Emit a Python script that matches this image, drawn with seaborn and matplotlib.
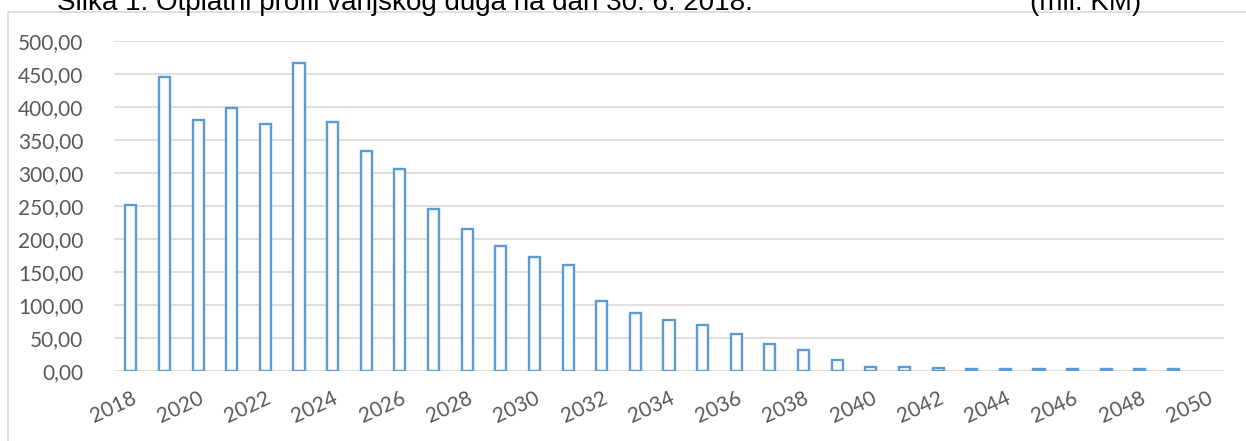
import matplotlib
matplotlib.use("Agg")
import matplotlib.pyplot as plt
import pandas as pd
import seaborn as sns
from matplotlib.patches import Rectangle
from matplotlib.ticker import FuncFormatter, MultipleLocator

# Repayment profile (mil. KM)
years = [str(y) for y in range(2018, 2051)]
paid_years = [str(y) for y in range(2018, 2050)]
amounts = [
    251, 446, 381, 399, 374, 467, 377, 333, 306, 245,
    215, 189, 172, 161, 106, 88, 78, 69, 56, 41,
    32, 16, 6, 5.5, 4.5, 3.5, 3.3, 3, 3, 3,
    3, 3,
]

title = "Slika 1: Otplatni profil vanjskog duga na dan 30. 6. 2018."
unit = "(mil. KM)"

BLUE = "#5B9BD5"
GREY_TEXT = "#595959"
GRID = "#D9D9D9"


def main():
    sns.set_style("white")
    plt.rcParams["font.family"] = ["Lato", "DejaVu Sans"]

    data = pd.DataFrame({"year": paid_years, "amount": amounts})

    fig = plt.figure(figsize=(12.46, 4.41), dpi=100)
    ax = fig.add_axes([114 / 1246, 70 / 441, 1110 / 1246, 330 / 441])

    sns.barplot(
        data=data, x="year", y="amount", order=years, ax=ax,
        color="white", edgecolor=BLUE, linewidth=1.7, width=0.33,
        errorbar=None,
    )

    ax.set_ylim(0, 500)
    ax.yaxis.set_major_locator(MultipleLocator(50))
    ax.yaxis.set_major_formatter(
        FuncFormatter(lambda v, _: f"{v:.2f}".replace(".", ","))
    )
    ax.grid(axis="y", color=GRID, linewidth=1.2)
    ax.set_axisbelow(True)
    sns.despine(ax=ax, left=True, bottom=True)

    ax.set_xlabel("")
    ax.set_ylabel("")
    ax.tick_params(axis="both", length=0, labelsize=15, labelcolor=GREY_TEXT)
    ax.tick_params(axis="y", pad=22)
    ax.tick_params(axis="x", pad=12)
    for i, lbl in enumerate(ax.get_xticklabels()):
        lbl.set_visible(i % 2 == 0)
        lbl.set_rotation(25)
        lbl.set_ha("right")
        lbl.set_rotation_mode("anchor")

    # outer chart frame
    fig.add_artist(Rectangle(
        (8 / 1246, -0.2), 1.2, 1.2 - 12 / 441, transform=fig.transFigure,
        fill=False, edgecolor="#D9D9D9", linewidth=1.2, clip_on=False,
    ))

    # caption (cut off at the top in the original)
    fig.text(57 / 1246, 1 - 10 / 441, title, family="Liberation Sans",
             fontsize=20, va="baseline", ha="left", color="black")
    fig.text(1030 / 1246, 1 - 10 / 441, unit, family="Liberation Sans",
             fontsize=20, va="baseline", ha="left", color="black")

    fig.savefig("out.png", dpi=100)


if __name__ == "__main__":
    main()
